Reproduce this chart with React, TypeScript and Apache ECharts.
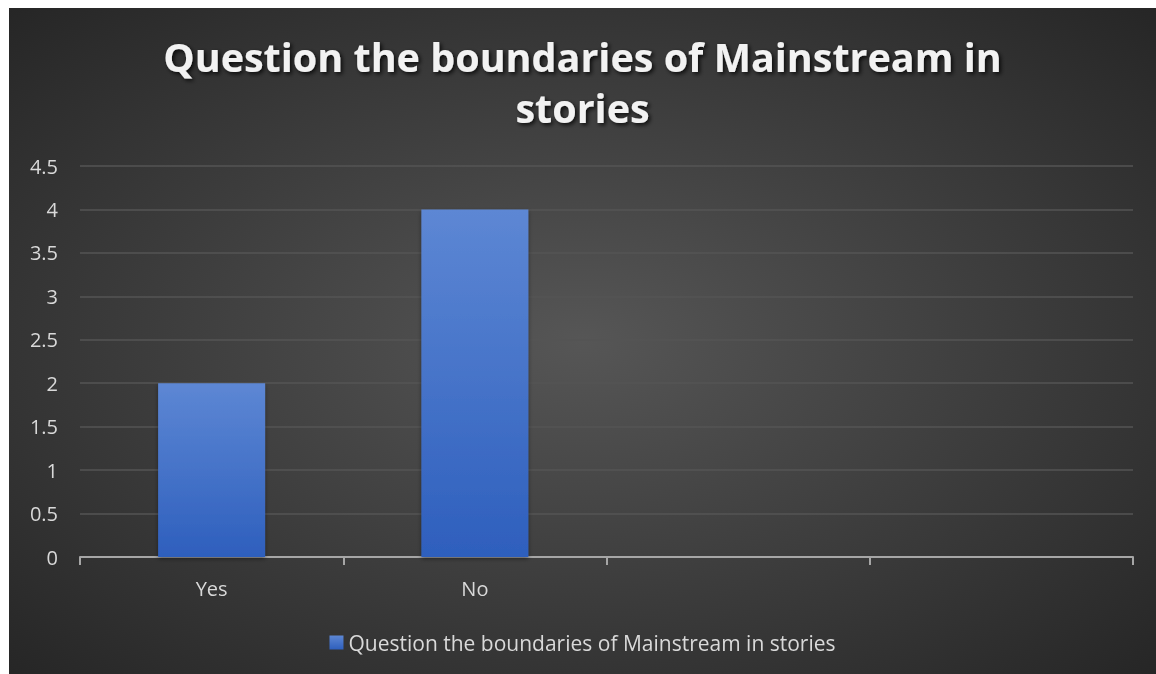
import React, { useEffect, useRef } from "react";
import * as echarts from "echarts";

const titleText = "Question the boundaries of Mainstream in\nstories";
const seriesName = "Question the boundaries of Mainstream in stories";
const categories = ["Yes", "No", "", ""];
const values: (number | null)[] = [2, 4, null, null];
const yMin = 0;
const yMax = 4.5;
const yInterval = 0.5;

export default function App() {
  const ref = useRef<HTMLDivElement>(null);
  useEffect(() => {
    if (!ref.current) return;
    const chart = echarts.init(ref.current, undefined, { renderer: "svg" });
    chart.setOption({
      animation: false,
      backgroundColor: {
        type: "radial",
        x: 0.5,
        y: 0.5,
        r: 0.75,
        colorStops: [
          { offset: 0, color: "#565656" },
          { offset: 1, color: "#232323" },
        ],
      },
      title: {
        text: titleText,
        left: "center",
        top: 18,
        textStyle: {
          color: "#f2f2f2",
          fontFamily: "Open Sans",
          fontWeight: "bold",
          fontSize: 39.5,
          lineHeight: 51,
          textShadowColor: "rgba(0,0,0,0.8)",
          textShadowBlur: 4,
          textShadowOffsetX: 2,
          textShadowOffsetY: 2,
        },
      },
      legend: {
        bottom: 16,
        left: "center",
        itemWidth: 14,
        itemHeight: 14,
        itemGap: 10,
        icon: "rect",
        textStyle: { color: "#d9d9d9", fontFamily: "Open Sans", fontSize: 21 },
        data: [seriesName],
      },
      grid: { left: 71, right: 23, top: 158, bottom: 117, containLabel: false },
      xAxis: {
        type: "category",
        data: categories,
        axisLine: { lineStyle: { color: "#a6a6a6", width: 2 } },
        axisTick: { show: true, length: 8, lineStyle: { color: "#a6a6a6", width: 2 } },
        axisLabel: { color: "#d9d9d9", fontFamily: "Open Sans", fontSize: 20, margin: 21 },
      },
      yAxis: {
        type: "value",
        min: yMin,
        max: yMax,
        interval: yInterval,
        axisLine: { show: false },
        axisTick: { show: false },
        axisLabel: { color: "#d9d9d9", fontFamily: "Open Sans", fontSize: 20, margin: 22 },
        splitLine: { lineStyle: { color: "#555555", width: 1.5 } },
      },
      series: [
        {
          name: seriesName,
          type: "bar",
          data: values,
          barWidth: 107,
          itemStyle: {
            color: {
              type: "linear",
              x: 0,
              y: 0,
              x2: 0,
              y2: 1,
              colorStops: [
                { offset: 0, color: "#5d87d4" },
                { offset: 1, color: "#2e5fbd" },
              ],
            },
            shadowColor: "rgba(0,0,0,0.4)",
            shadowBlur: 4,
            shadowOffsetY: 2,
          },
        },
      ],
    });
    return () => chart.dispose();
  }, []);
  return (
    <div
      ref={ref}
      style={{ position: "fixed", left: 9, top: 8, width: 1147, height: 666 }}
    />
  );
}
